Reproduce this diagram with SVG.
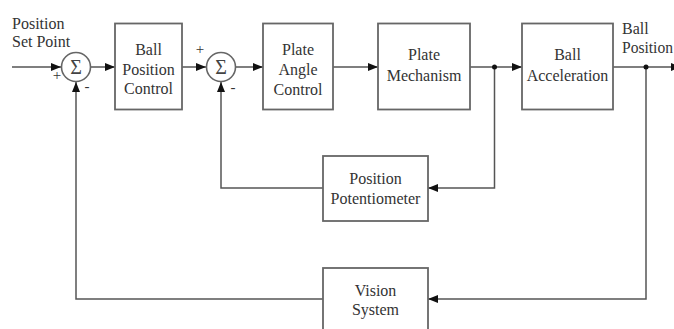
<svg xmlns="http://www.w3.org/2000/svg" width="674" height="329" viewBox="0 0 674 329">
<style>
.box{fill:#fff;stroke:#666;stroke-width:1.8}
.sum{fill:#fff;stroke:#666;stroke-width:1.6}
.t{font-family:"Liberation Serif",serif;font-size:16px;fill:#333;text-anchor:middle}
.tl{font-family:"Liberation Serif",serif;font-size:16px;fill:#333}
.sg{font-family:"Liberation Serif",serif;font-size:20px;fill:#444;text-anchor:middle}
.s{font-family:"Liberation Serif",serif;font-size:15px;fill:#333;text-anchor:middle}
.c{fill:none;stroke:#555;stroke-width:1.5}
</style>
<defs>
<marker id="a" viewBox="0 0 10 8" refX="10" refY="4" markerWidth="10" markerHeight="8" markerUnits="userSpaceOnUse" orient="auto">
<path d="M0,0 L10,4 L0,8 Z" fill="#111"/>
</marker>
</defs>
<g id="connectors">
<line class="c" x1="12" y1="67" x2="61" y2="67" marker-end="url(#a)"/>
<line class="c" x1="90.5" y1="67" x2="115" y2="67" marker-end="url(#a)"/>
<line class="c" x1="182" y1="67" x2="206" y2="67" marker-end="url(#a)"/>
<line class="c" x1="235.5" y1="67" x2="263" y2="67" marker-end="url(#a)"/>
<line class="c" x1="333" y1="67" x2="378" y2="67" marker-end="url(#a)"/>
<line class="c" x1="470" y1="67" x2="522" y2="67" marker-end="url(#a)"/>
<line class="c" x1="613" y1="67" x2="681" y2="67" marker-end="url(#a)"/>
<polyline class="c" points="494.5,67 494.5,188 428,188" marker-end="url(#a)"/>
<polyline class="c" points="646,67 646,299 428,299" marker-end="url(#a)"/>
<polyline class="c" points="323,188 221,188 221,82" marker-end="url(#a)"/>
<polyline class="c" points="323,299 76,299 76,82" marker-end="url(#a)"/>
<circle cx="494.5" cy="67" r="2.5" fill="#111"/>
<circle cx="646" cy="67" r="2.5" fill="#111"/>
</g>
<g id="sum1">
<circle class="sum" cx="76" cy="67" r="14.5"/>
<text class="sg" x="76" y="73.5">Σ</text>
<text class="s" x="57" y="80">+</text>
<text class="s" x="87" y="91">-</text>
</g>
<g id="sum2">
<circle class="sum" cx="221" cy="67" r="14.5"/>
<text class="sg" x="221" y="73.5">Σ</text>
<text class="s" x="200" y="54">+</text>
<text class="s" x="233" y="92">-</text>
</g>
<g id="setpoint">
<text class="tl" x="12" y="29">Position</text>
<text class="tl" x="12" y="47">Set Point</text>
</g>
<g id="ballposition">
<text class="tl" x="622" y="34">Ball</text>
<text class="tl" x="622" y="53" textLength="51" lengthAdjust="spacingAndGlyphs">Position</text>
</g>
<g id="ballPositionControl">
<rect class="box" x="115" y="23.5" width="67" height="86"/>
<text class="t" x="148.5" y="55">Ball</text>
<text class="t" x="148.5" y="75">Position</text>
<text class="t" x="148.5" y="94">Control</text>
</g>
<g id="plateAngleControl">
<rect class="box" x="263" y="23.5" width="70" height="86"/>
<text class="t" x="298" y="55">Plate</text>
<text class="t" x="298" y="75">Angle</text>
<text class="t" x="298" y="95">Control</text>
</g>
<g id="plateMechanism">
<rect class="box" x="378" y="23.5" width="92" height="86"/>
<text class="t" x="424" y="60">Plate</text>
<text class="t" x="424" y="81">Mechanism</text>
</g>
<g id="ballAcceleration">
<rect class="box" x="522" y="23.5" width="91" height="86"/>
<text class="t" x="567.5" y="60">Ball</text>
<text class="t" x="567.5" y="81">Acceleration</text>
</g>
<g id="positionPotentiometer">
<rect class="box" x="323" y="156" width="105" height="65"/>
<text class="t" x="375.5" y="184">Position</text>
<text class="t" x="375.5" y="204">Potentiometer</text>
</g>
<g id="visionSystem">
<rect class="box" x="323" y="268" width="105" height="75"/>
<text class="t" x="375.5" y="296">Vision</text>
<text class="t" x="375.5" y="315">System</text>
</g>
</svg>
